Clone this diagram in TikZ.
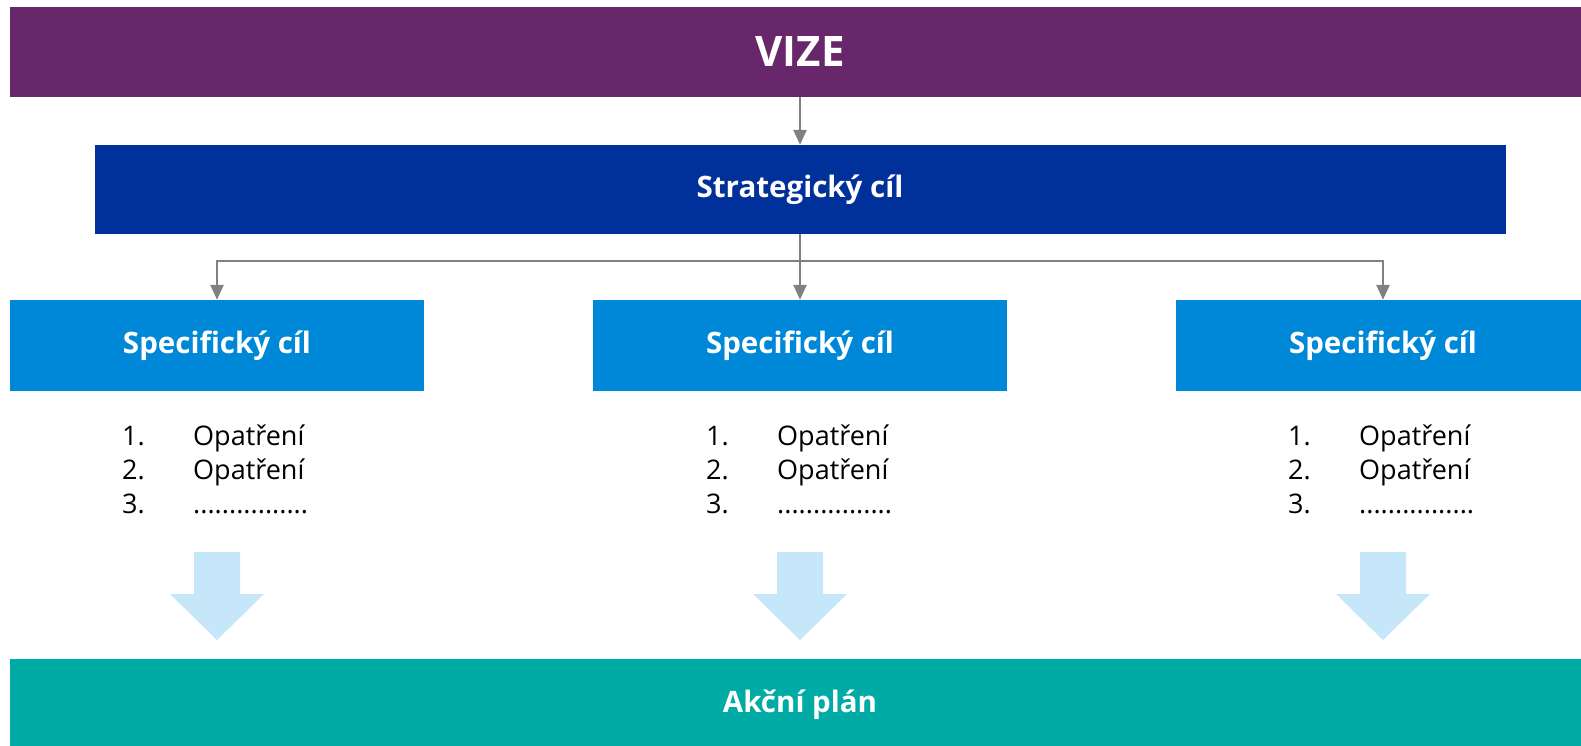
\documentclass[tikz,border=0pt]{standalone}
\usepackage{fontspec}
\setmainfont{Open Sans}
\usetikzlibrary{arrows.meta}
\definecolor{vizec}{HTML}{68266B}
\definecolor{stratc}{HTML}{00309A}
\definecolor{specc}{HTML}{0088D8}
\definecolor{planc}{HTML}{00ABA6}
\definecolor{lightc}{HTML}{C6E6FA}
\definecolor{connc}{HTML}{808080}
\begin{document}
\begin{tikzpicture}[x=1pt,y=-1pt,
  bar/.style={rectangle, inner sep=0pt, text=white, font=\bfseries\fontsize{29.5}{34}\selectfont},
  conn/.style={draw=connc, line width=2.5pt, -{Triangle[width=13pt,length=15pt]}},
  listn/.style={inner sep=0pt, anchor=west, align=left, font=\fontsize{27}{34}\selectfont},
  blockarr/.style={fill=lightc}]
\useasboundingbox (0,0) rectangle (1581,745);
\clip (0,0) rectangle (1581,745);
\node[bar, fill=vizec, minimum width=1580pt, minimum height=90pt, font=\bfseries\fontsize{42}{48}\selectfont] (vize) at (800,52) {VIZE};
\node[bar, fill=stratc, minimum width=1411pt, minimum height=89pt] (strat) at (800,189.5) {Strategický cíl};
\node[bar, fill=specc, minimum width=414pt, minimum height=91pt] (spec1) at (217,345.5) {Specifický cíl};
\node[bar, fill=specc, minimum width=414pt, minimum height=91pt] (spec2) at (800,345.5) {Specifický cíl};
\node[bar, fill=specc, minimum width=414pt, minimum height=91pt] (spec3) at (1383,345.5) {Specifický cíl};
\node[bar, fill=planc, minimum width=1580pt, minimum height=92pt] (plan) at (800,705) {Akční plán};
\foreach \n/\x in {1/122, 2/706, 3/1288} {
  \node[listn] (list\n) at (\x,469) {\makebox[71pt][l]{1.}Opatření\\\makebox[71pt][l]{2.}Opatření\\\makebox[71pt][l]{3.}................};
}
\draw[conn] (strat.north |- vize.south) -- (strat.north);
\draw[conn] (strat.south) -- (spec2.north);
\draw[conn] (strat.south) ++(0,27) -| (spec1.north);
\draw[conn] (strat.south) ++(0,27) -| (spec3.north);
\foreach \n in {1,2,3} {
  \coordinate (a\n) at (spec\n.center |- 0,552);
  \fill[blockarr] (a\n) ++(-23,0) -- ++(46,0) -- ++(0,42) -- ++(24,0) -- ++(-47,46) -- ++(-47,-46) -- ++(24,0) -- cycle;
}
\end{tikzpicture}
\end{document}
